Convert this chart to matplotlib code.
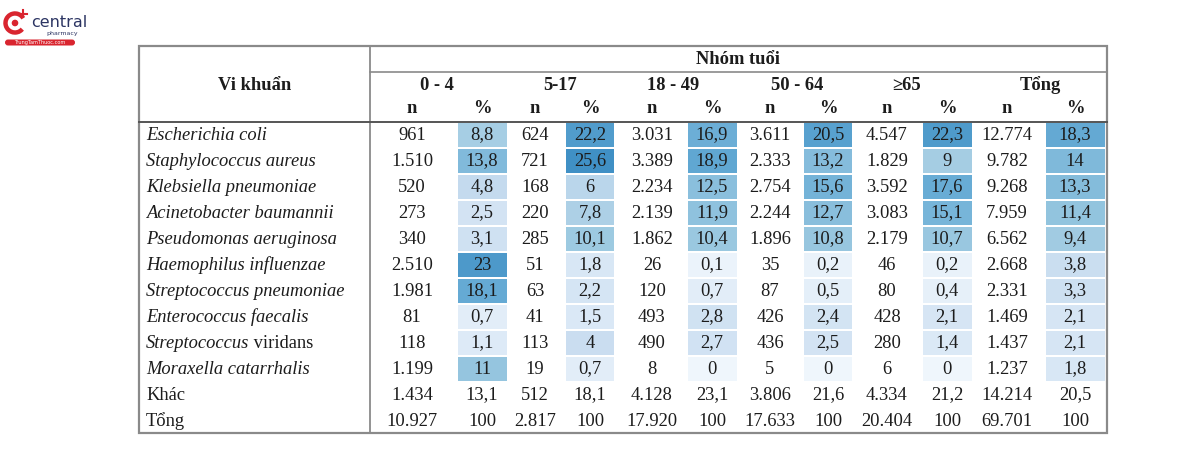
import matplotlib.pyplot as plt
from matplotlib.patches import Rectangle, FancyBboxPatch, Arc, Circle
from matplotlib import colors

# ---------------------------------------------------------------
# data
# ---------------------------------------------------------------
bacteria = ["Escherichia coli", "Staphylococcus aureus", "Klebsiella pneumoniae",
            "Acinetobacter baumannii", "Pseudomonas aeruginosa", "Haemophilus influenzae",
            "Streptococcus pneumoniae", "Enterococcus faecalis", "Streptococcus viridans",
            "Moraxella catarrhalis", "Khác", "Tổng"]
age_groups = ["0 - 4", "5-17", "18 - 49", "50 - 64", "≥65", "Tổng"]

n_04 = ["961", "1.510", "520", "273", "340", "2.510", "1.981", "81", "118", "1.199", "1.434", "10.927"]
p_04 = [8.8, 13.8, 4.8, 2.5, 3.1, 23, 18.1, 0.7, 1.1, 11, 13.1, 100]
n_517 = ["624", "721", "168", "220", "285", "51", "63", "41", "113", "19", "512", "2.817"]
p_517 = [22.2, 25.6, 6, 7.8, 10.1, 1.8, 2.2, 1.5, 4, 0.7, 18.1, 100]
n_1849 = ["3.031", "3.389", "2.234", "2.139", "1.862", "26", "120", "493", "490", "8", "4.128", "17.920"]
p_1849 = [16.9, 18.9, 12.5, 11.9, 10.4, 0.1, 0.7, 2.8, 2.7, 0, 23.1, 100]
n_5064 = ["3.611", "2.333", "2.754", "2.244", "1.896", "35", "87", "426", "436", "5", "3.806", "17.633"]
p_5064 = [20.5, 13.2, 15.6, 12.7, 10.8, 0.2, 0.5, 2.4, 2.5, 0, 21.6, 100]
n_65 = ["4.547", "1.829", "3.592", "3.083", "2.179", "46", "80", "428", "280", "6", "4.334", "20.404"]
p_65 = [22.3, 9, 17.6, 15.1, 10.7, 0.2, 0.4, 2.1, 1.4, 0, 21.2, 100]
n_tot = ["12.774", "9.782", "9.268", "7.959", "6.562", "2.668", "2.331", "1.469", "1.437", "1.237", "14.214", "69.701"]
p_tot = [18.3, 14, 13.3, 11.4, 9.4, 3.8, 3.3, 2.1, 2.1, 1.8, 20.5, 100]

n_cols = [n_04, n_517, n_1849, n_5064, n_65, n_tot]
p_cols = [p_04, p_517, p_1849, p_5064, p_65, p_tot]
n_colored = 10  # first 10 rows get heat colours


def fmt(v):
    s = ("%.1f" % v).rstrip("0").rstrip(".")
    return s.replace(".", ",")


plt.rcParams["font.family"] = ["Liberation Serif", "DejaVu Serif"]

# ---------------------------------------------------------------
# layout
# ---------------------------------------------------------------
fig = plt.figure(figsize=(12, 4.74), dpi=100)
ax = fig.add_axes([0, 0, 1, 1])
ax.set_xlim(0, 1200)
ax.set_ylim(474, 0)
ax.axis("off")

txt = "#1c1c1c"
fs = 13.3

left, right, top, bottom = 139, 1107, 46, 433
div_x = 370
n_x = [412, 535, 652, 770, 887, 1007]
p_x = [482, 590, 712, 828, 947, 1075]
grp_x = [437, 560, 673, 797, 907, 1040]
cell_w = [49, 48, 49, 48, 49, 59]
row_y0, row_dy = 135, 26.0
name_x = 146

cmap = plt.get_cmap("Blues")
norm = colors.PowerNorm(gamma=0.6, vmin=0, vmax=25.6)


def heat(v):
    return cmap(0.04 + 0.59 * norm(v))


# heat cells
for c in range(6):
    for r in range(n_colored):
        yc = row_y0 + r * row_dy
        ax.add_patch(Rectangle((p_x[c] - cell_w[c] / 2, yc - row_dy / 2 + 0.8),
                               cell_w[c], row_dy - 1.6, facecolor=heat(p_cols[c][r]),
                               edgecolor="none", zorder=1))

# text body
for r, name in enumerate(bacteria):
    yc = row_y0 + r * row_dy
    if name == "Streptococcus viridans":
        t = ax.text(name_x, yc, "Streptococcus", style="italic", fontsize=fs,
                    color=txt, va="center", ha="left")
        ax.annotate(" viridans", xy=(1, 0.5), xycoords=t, fontsize=fs, color=txt,
                    va="center", ha="left")
    elif r < n_colored:
        ax.text(name_x, yc, name, style="italic", fontsize=fs, color=txt, va="center", ha="left")
    else:
        ax.text(name_x, yc, name, fontsize=fs, color=txt, va="center", ha="left")
    for c in range(6):
        ax.text(n_x[c], yc, n_cols[c][r], fontsize=fs, color=txt, va="center", ha="center")
        ax.text(p_x[c], yc, fmt(p_cols[c][r]), fontsize=fs, color=txt, va="center", ha="center")

# header
ax.text(255, 85, "Vi khuẩn", fontsize=fs, fontweight="bold", color=txt, ha="center", va="center")
ax.text(738, 59, "Nhóm tuổi", fontsize=fs, fontweight="bold", color=txt, ha="center", va="center")
for c, g in enumerate(age_groups):
    ax.text(grp_x[c], 85, g, fontsize=fs, fontweight="bold", color=txt, ha="center", va="center")
    ax.text(n_x[c], 108, "n", fontsize=fs, fontweight="bold", color=txt, ha="center", va="center")
    ax.text(p_x[c], 108, "%", fontsize=fs, fontweight="bold", color=txt, ha="center", va="center")

# borders
lc = "#8a8a8a"
ax.add_patch(Rectangle((left, top), right - left, bottom - top, fill=False,
                       edgecolor=lc, linewidth=1.6, zorder=3))
ax.plot([div_x, div_x], [top, bottom], color=lc, lw=1.3, zorder=3)
ax.plot([div_x, right], [71.5, 71.5], color=lc, lw=1.2, zorder=3)
ax.plot([left, right], [122, 122], color="#555555", lw=1.4, zorder=3)

# logo
red = "#d9252f"
ax.add_patch(Arc((15, 23), 19, 19, theta1=40, theta2=330, color=red, lw=3.2))
ax.add_patch(Circle((15, 23), 2.6, color=red))
ax.plot([23, 23], [10, 17], color=red, lw=1.5)
ax.plot([19.5, 26.5], [13.5, 13.5], color=red, lw=1.5)
ax.text(31, 22, "central", fontsize=11.5, color="#2c3563", family="DejaVu Sans",
        ha="left", va="center")
ax.text(46, 33, "pharmacy", fontsize=4.5, color="#2c3563", family="DejaVu Sans",
        ha="left", va="center")
ax.add_patch(FancyBboxPatch((5, 39.5), 70, 6, boxstyle="round,pad=0,rounding_size=3",
                            facecolor=red, edgecolor="none"))
ax.text(40, 42.5, "TrungTamThuoc.com", fontsize=3.6, color="white", family="DejaVu Sans",
        ha="center", va="center")

fig.savefig("out.png", dpi=100)
